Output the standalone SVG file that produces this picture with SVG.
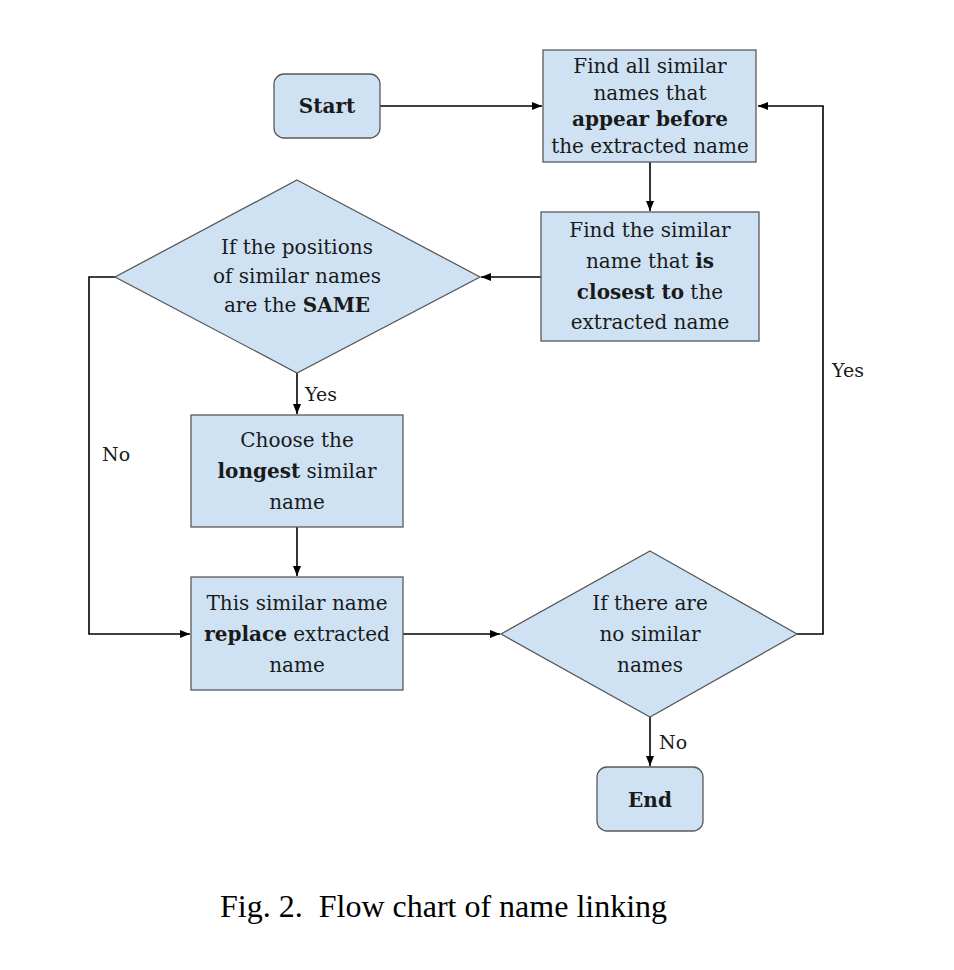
<svg xmlns="http://www.w3.org/2000/svg" width="954" height="970" viewBox="0 0 954 970">
<style>
.n{fill:#cfe2f3;stroke:#595959;stroke-width:1.3}
.t{font-family:"DejaVu Serif","Liberation Serif",serif;font-size:20px;fill:#1a1a1a;text-anchor:middle}
.b{font-weight:bold}
.l{font-family:"DejaVu Serif","Liberation Serif",serif;font-size:19px;fill:#1a1a1a}
.c{fill:none;stroke:#000;stroke-width:1.6}
.cap{font-family:"Liberation Serif","Times New Roman",serif;font-size:32px;fill:#000}
</style>
<defs>
<marker id="a" viewBox="0 0 10 10" refX="10" refY="5" markerWidth="10" markerHeight="10" markerUnits="userSpaceOnUse" orient="auto">
<path d="M0,1 L10,5 L0,9 Z" fill="#000"/>
</marker>
</defs>
<rect width="954" height="970" fill="#fff"/>
<g id="connectors">
<path class="c" d="M380,106 H542" marker-end="url(#a)"/>
<path class="c" d="M650,162 V211" marker-end="url(#a)"/>
<path class="c" d="M541,277 H481" marker-end="url(#a)"/>
<path class="c" d="M297,373 V414" marker-end="url(#a)"/>
<path class="c" d="M297,527 V576" marker-end="url(#a)"/>
<path class="c" d="M115,277 H89 V634 H190" marker-end="url(#a)"/>
<path class="c" d="M403,634 H500" marker-end="url(#a)"/>
<path class="c" d="M797,634 H823 V106 H758" marker-end="url(#a)"/>
<path class="c" d="M650,717 V766" marker-end="url(#a)"/>
<text class="l" x="305" y="401">Yes</text>
<text class="l" x="102" y="461">No</text>
<text class="l" x="832" y="377">Yes</text>
<text class="l" x="659" y="749">No</text>
</g>
<g id="start">
<rect class="n" x="274" y="74" width="106" height="64" rx="10"/>
<text class="t b" x="327" y="113">Start</text>
</g>
<g id="find-all">
<rect class="n" x="543" y="50" width="213" height="112"/>
<text class="t" x="650" y="73">Find all similar</text>
<text class="t" x="650" y="100">names that</text>
<text class="t b" x="650" y="126">appear before</text>
<text class="t" x="650" y="153">the extracted name</text>
</g>
<g id="find-closest">
<rect class="n" x="541" y="212" width="218" height="129"/>
<text class="t" x="650" y="237">Find the similar</text>
<text class="t" x="650" y="268">name that <tspan class="b">is</tspan></text>
<text class="t" x="650" y="299"><tspan class="b">closest to</tspan> the</text>
<text class="t" x="650" y="329">extracted name</text>
</g>
<g id="same-positions">
<polygon class="n" points="297,180 480,277 297,373 115,277"/>
<text class="t" x="297" y="254">If the positions</text>
<text class="t" x="297" y="283">of similar names</text>
<text class="t" x="297" y="312">are the <tspan class="b">SAME</tspan></text>
</g>
<g id="choose-longest">
<rect class="n" x="191" y="415" width="212" height="112"/>
<text class="t" x="297" y="447">Choose the</text>
<text class="t" x="297" y="478"><tspan class="b">longest</tspan> similar</text>
<text class="t" x="297" y="509">name</text>
</g>
<g id="replace">
<rect class="n" x="191" y="577" width="212" height="113"/>
<text class="t" x="297" y="610">This similar name</text>
<text class="t" x="297" y="641"><tspan class="b">replace</tspan> extracted</text>
<text class="t" x="297" y="672">name</text>
</g>
<g id="no-similar">
<polygon class="n" points="650,551 797,634 650,717 501,634"/>
<text class="t" x="650" y="610">If there are</text>
<text class="t" x="650" y="641">no similar</text>
<text class="t" x="650" y="672">names</text>
</g>
<g id="end">
<rect class="n" x="597" y="767" width="106" height="64" rx="10"/>
<text class="t b" x="650" y="807">End</text>
</g>
<text class="cap" x="220" y="917" xml:space="preserve">Fig. 2.  Flow chart of name linking</text>
</svg>
